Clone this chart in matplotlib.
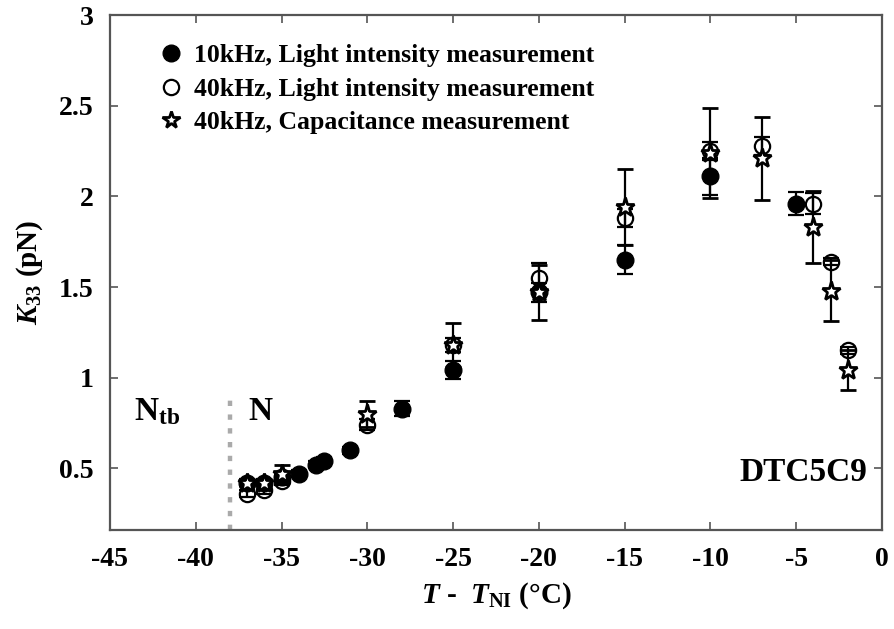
import matplotlib
matplotlib.use("Agg")
import matplotlib.pyplot as plt
from matplotlib.lines import Line2D

# K33 vs reduced temperature, DTC5C9
t_10k = [-37, -36, -35, -34, -33, -32.5, -31, -28, -25, -20, -15, -10, -5]
k_10k = [0.42, 0.42, 0.45, 0.47, 0.52, 0.54, 0.60, 0.83, 1.04, 1.47, 1.65, 2.11, 1.96]
e_10k = [0.02, 0.02, 0.02, 0.02, 0.02, 0.02, 0.02, 0.04, 0.05, 0.05, 0.08, 0.10, 0.065]

t_40k = [-37, -36, -35, -30, -25, -20, -15, -10, -7, -4, -3, -2]
k_40k = [0.36, 0.38, 0.43, 0.74, 1.18, 1.55, 1.88, 2.25, 2.28, 1.96, 1.64, 1.15]
e_40k = [0.02, 0.02, 0.02, 0.03, 0.04, 0.08, 0.05, 0.05, 0.05, 0.06, 0.02, 0.02]

t_cap = [-37, -36, -35, -30, -25, -20, -15, -10, -7, -4, -3, -2]
k_cap = [0.42, 0.42, 0.47, 0.80, 1.18, 1.47, 1.94, 2.24, 2.21, 1.83, 1.48, 1.04]
e_cap = [0.02, 0.02, 0.05, 0.07, 0.12, 0.15, 0.21, 0.25, 0.23, 0.20, 0.17, 0.11]

labels = ['10kHz, Light intensity measurement',
          '40kHz, Light intensity measurement',
          '40kHz, Capacitance measurement']

x_ticks = [-45, -40, -35, -30, -25, -20, -15, -10, -5, 0]
y_ticks = [0.5, 1, 1.5, 2, 2.5, 3]
y_tick_labels = ['0.5', '1', '1.5', '2', '2.5', '3']
t_transition = -38

plt.rcParams['font.family'] = 'Liberation Serif'
plt.rcParams['font.weight'] = 'bold'
plt.rcParams['axes.labelweight'] = 'bold'
plt.rcParams['axes.unicode_minus'] = False
plt.rcParams['mathtext.fontset'] = 'custom'
plt.rcParams['mathtext.rm'] = 'Liberation Serif:bold'
plt.rcParams['mathtext.it'] = 'Liberation Serif:italic:bold'
plt.rcParams['mathtext.bf'] = 'Liberation Serif:bold'

fig = plt.figure(figsize=(8.94, 6.29), dpi=100)
ax = fig.add_axes([0.123, 0.1574, 0.8636, 0.8187])

# N_tb / N phase boundary
ax.plot([t_transition, t_transition], [0.16, 0.9], color='#aaaaaa', lw=3.2,
        linestyle=(0, (1.2, 1.9)), zorder=1)

eb = dict(ecolor='black', elinewidth=1.6, capsize=5.5, capthick=1.6, linestyle='none')
ax.errorbar(t_10k, k_10k, yerr=e_10k, marker='o', ms=12, mfc='black', mec='black',
            zorder=3, **eb)
ax.errorbar(t_40k, k_40k, yerr=e_40k, marker='o', ms=11, mfc='none', mec='black', mew=1.6,
            zorder=4, **eb)
ax.errorbar(t_cap, k_cap, yerr=e_cap, marker='*', ms=14, mfc='white', mec='black', mew=2.0,
            zorder=5, **eb)

ax.set_xlim(-45, 0)
ax.set_ylim(0.16, 3)
ax.set_xticks(x_ticks)
ax.set_xticklabels([str(v) for v in x_ticks])
ax.set_yticks(y_ticks)
ax.set_yticklabels(y_tick_labels)
ax.tick_params(direction='in', length=6, width=1.2, color='#555555', labelsize=20,
               top=True, right=True, pad=12)
for s in ax.spines.values():
    s.set_color('#555555')
    s.set_linewidth(1.6)

ax.set_xlabel(r'$T$ -  $T_{\mathbf{NI}}$ (°C)', fontsize=21, labelpad=6)
ax.set_ylabel(r'$K_{\mathbf{33}}$ (pN)', fontsize=21, labelpad=10)

handles = [
    Line2D([], [], linestyle='none', marker='o', ms=12, mfc='black', mec='black'),
    Line2D([], [], linestyle='none', marker='o', ms=11, mfc='none', mec='black', mew=1.6),
    Line2D([], [], linestyle='none', marker='*', ms=13, mfc='white', mec='black', mew=2.0),
]
ax.legend(handles, labels, loc='upper left', bbox_to_anchor=(0.062, 0.944), frameon=False,
          fontsize=18.5, handletextpad=0.4, labelspacing=0.42, handlelength=1.0,
          borderaxespad=0, borderpad=0)

ax.text(-43.6, 0.765, r'N$_{\mathbf{tb}}$', fontsize=24, va='baseline')
ax.text(-36.96, 0.765, 'N', fontsize=24, va='baseline')
ax.text(-8.3, 0.43, 'DTC5C9', fontsize=24, va='baseline')

fig.savefig('out.png', dpi=100)
